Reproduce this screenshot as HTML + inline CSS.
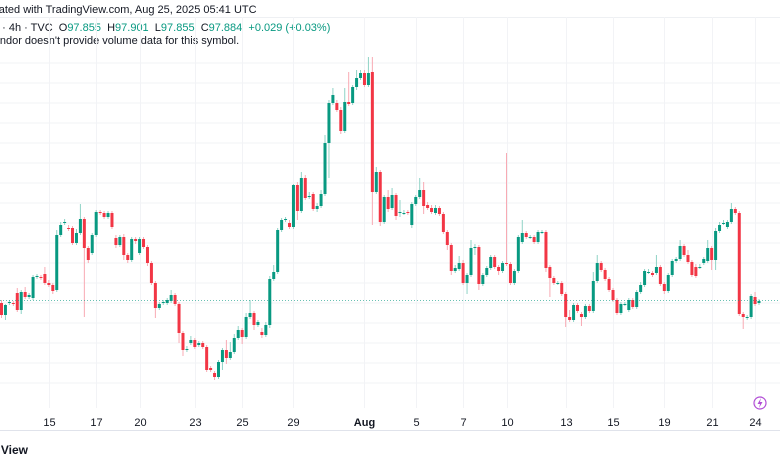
<!DOCTYPE html>
<html><head><meta charset="utf-8"><style>
html,body{margin:0;padding:0;background:#fff;width:780px;height:470px;overflow:hidden;font-family:"Liberation Sans",sans-serif}
#wrap{position:absolute;left:0;top:0;width:780px;height:470px;overflow:hidden}
.t{position:absolute;white-space:nowrap;color:#131722}
</style></head><body><div id="wrap">
<div class="t" style="left:-19px;top:4px;font-size:11px">Created with TradingView.com, Aug 25, 2025 05:41 UTC</div>
<div style="position:absolute;left:0;top:17px;width:780px;height:1px;background:#eef0f3"></div>
<div class="t" style="left:-4px;top:22px;font-size:11px">: · 4h · TVC&nbsp; O<span style="color:#089981">97.855</span>&nbsp; H<span style="color:#089981">97.901</span>&nbsp; L<span style="color:#089981">97.855</span>&nbsp; C<span style="color:#089981">97.884</span>&nbsp; <span style="color:#089981">+0.029 (+0.03%)</span></div>
<div class="t" style="left:-13px;top:35px;font-size:11px">Vendor doesn't provide volume data for this symbol.</div>
<svg id="chart" width="780" height="470" style="position:absolute;left:0;top:0" xmlns="http://www.w3.org/2000/svg"></svg>
<div class="t" style="right:752px;top:443px;font-size:12px;font-weight:bold">TradingView</div>
</div>
<script>
// [open, close, high, low] in index points
const candles = [
[97,85,100,82],[85,95,96,80],[97,98,100,95],[97,96,99,94],[107,90,112,88],[90,108,110,86],[108,103,113,101],[103,105,107,101],[102,123,125,100],[123,124,126,121],
[123,122,125,120],[126,117,133,115],[117,115,120,113],[115,109,117,106],[110,165,170,108],[165,175,178,163],[177,178,181,175],[172,171,175,169],[172,157,174,155],[157,167,171,155],
[167,181,196,165],[181,152,183,83],[152,140,154,137],[147,165,167,145],[165,188,190,163],[188,187,190,185],[187,183,189,181],[183,187,189,181],[187,173,189,171],[162,155,165,152],
[155,163,165,153],[163,145,166,140],[145,140,147,137],[140,161,163,138],[161,159,163,156],[147,161,163,145],[161,153,163,151],[153,137,155,134],[137,117,139,115],[117,92,119,82],
[92,96,98,90],[97,98,100,95],[97,100,102,95],[99,105,110,97],[105,96,107,94],[96,67,98,57],[67,50,69,44],[50,51,54,48],[57,60,64,55],[60,53,62,51],
[55,57,59,53],[57,53,59,51],[53,30,55,28],[32,30,34,28],[27,23,29,20],[23,38,40,21],[38,50,52,30],[50,42,60,36],[42,48,58,40],[48,62,66,46],
[62,70,74,60],[70,63,72,56],[63,83,87,61],[83,87,100,81],[87,75,89,70],[75,78,80,73],
[68,65,72,62],[65,75,78,63],[75,121,124,72],[121,128,135,119],[128,170,172,126],[170,180,182,168],[180,181,183,178],[177,173,180,171],[173,215,216,171],[215,189,218,180],
[189,222,228,187],[222,202,225,200],[203,204,208,201],[206,191,208,189],[191,194,197,188],[194,206,210,192],[206,257,265,204],[257,297,300,222],[297,305,312,295],[297,290,300,288],
[290,269,293,266],[269,298,312,267],[298,296,328,294],[297,313,315,295],[313,322,330,310],[322,327,330,320],[327,315,330,313],[315,327,343,313],[328,208,343,175],[208,228,233,206],
[228,178,230,174],[178,203,205,176],[203,191,210,188],
[192,205,212,190],[205,184,207,180],[187,188,200,183],[187,187,190,185],[188,187,190,185],[175,196,198,172],[196,203,205,194],[203,210,222,201],[210,194,218,186],[195,192,198,190],
[192,188,195,186],[187,192,195,185],[192,186,194,184],[186,168,188,166],[168,155,170,150],[155,129,157,125],[129,132,135,127],[131,137,144,129],[137,117,140,115],[117,125,127,106],
[125,152,160,123],[152,153,156,145],[153,116,155,110],[116,125,127,114],[125,132,134,123],[132,143,145,130],[143,133,145,131],[133,129,135,125],[129,137,139,127],[137,136,247,134],
[136,117,138,115],[117,129,131,115],[129,163,165,127],
[158,167,180,156],[167,163,169,161],[163,163,165,161],[163,158,165,156],[158,168,170,156],[168,168,170,166],[168,132,170,128],[133,122,135,103],[122,117,124,115],[117,117,119,115],
[117,106,119,104],[106,83,108,73],[83,80,90,78],[80,95,97,78],[95,89,97,87],[86,83,88,74],[83,94,96,81],[94,89,96,87],[89,119,128,87],[119,137,145,117],
[137,130,139,128],[130,121,132,119],[121,110,123,108],[110,100,112,98],[100,87,102,85],[87,96,98,85],[96,96,98,94],[90,100,102,88],[100,93,102,91],[93,108,110,91],
[108,115,118,106],[115,129,131,113],[128,128,131,126],
[127,125,129,123],[127,133,145,125],[133,116,135,114],[116,109,118,106],[109,125,127,107],[125,139,141,123],[139,141,143,137],[141,154,160,139],[154,145,156,143],[145,138,150,136],
[138,125,140,123],[133,124,136,122],[133,133,136,131],[137,141,143,135],[139,152,160,137],[152,140,154,130],[140,169,172,130],[169,175,178,167],[177,177,180,175],[173,178,180,171],
[178,191,197,176],[191,187,193,185],[187,86,189,84],[86,83,88,71],[83,83,85,80],[83,104,106,81],[103,96,108,94],[97,99,101,95]
];
const xTicks = ["15","17","20","23","25","29","Aug","5","7","10","13","15","19","21","24"];
const xTickIdx = [12,24,35,49,61,74,92,105,117,128,143,155,168,180,191];
const gridLevels = [337,317,297,277,257,237,217,197,177,157,137,117,97,77,57,37,17];

const svg = document.getElementById('chart');
const NS = 'http://www.w3.org/2000/svg';
const n = candles.length;
function xScale(i){ return 1.5 + i * (757.5 / (n - 1)); }
function yScale(v){ return 400 - v; }
function mk(tag, attrs){ const e = document.createElementNS(NS, tag); for (const k in attrs) e.setAttribute(k, attrs[k]); svg.appendChild(e); return e; }

gridLevels.forEach(g => {
  const l = mk('line', {x1:0, x2:780, y1:yScale(g), y2:yScale(g), stroke:'#f2f3f6', 'stroke-width':1});
  
  
});
xTickIdx.forEach((ti, k) => {
  const x = Math.round(xScale(ti)) + 0.5;
  const l = mk('line', {x1:x, x2:x, y1:17, y2:408, stroke:'#f2f3f6', 'stroke-width':1});
  
  
  const t = mk('text', {x:x, y:426, 'text-anchor':'middle', 'font-size':11, fill:'#131722', 'font-family':'Liberation Sans, sans-serif', 'font-weight': xTicks[k]==='Aug' ? 'bold' : 'normal'});
  t.textContent = xTicks[k];
  
  
});
const ax = mk('line', {x1:0, x2:780, y1:430.5, y2:430.5, stroke:'#e0e3eb', 'stroke-width':1});



candles.forEach((c, i) => {
  const [o, cl, h, l] = c;
  const up = cl >= o;
  const x = xScale(i);
  const w = mk('line', {x1:x, x2:x, y1:yScale(h), y2:yScale(l), stroke: up ? '#8fd3c6' : '#f8aab3', 'stroke-width':1});
  
  
  const top = yScale(Math.max(o, cl)), bot = yScale(Math.min(o, cl));
  const b = mk('rect', {x:x - 1.5, y:top, width:3, height:Math.max(1, bot - top), fill: up ? '#089981' : '#f23645'});
  
  
});
const last = candles[n - 1][1];
const pl = mk('line', {x1:0, x2:780, y1:yScale(last) - 0.5, y2:yScale(last) - 0.5, stroke:'#089981', 'stroke-width':1, 'stroke-dasharray':'1,2', opacity:0.6});


const ic = mk('circle', {cx:760, cy:403, r:6, fill:'none', stroke:'#b24ed6', 'stroke-width':1.2});


const bolt = mk('path', {d:'M761 398 L757.5 404 L760 404 L759 408 L762.5 402 L760 402 Z', fill:'#b24ed6'});


</script>
</body></html>
